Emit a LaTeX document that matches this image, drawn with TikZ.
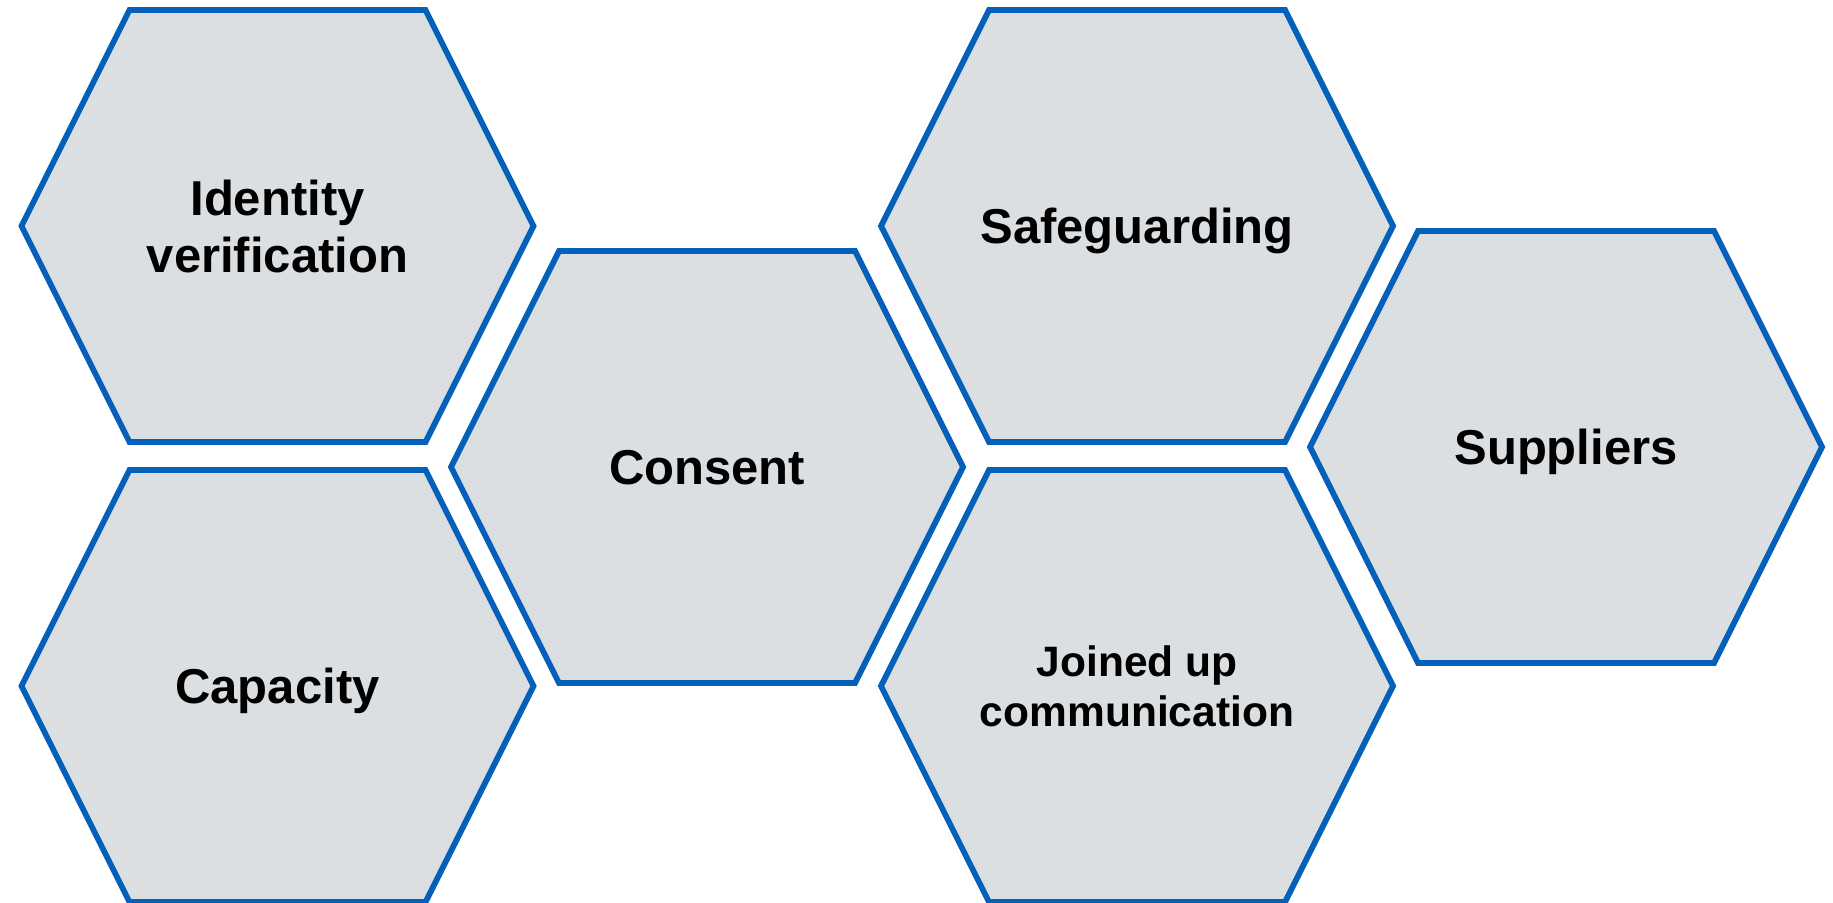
\documentclass[tikz,border=0pt]{standalone}
\usepackage{fontspec}
\setmainfont{Liberation Sans}
\definecolor{hexfill}{RGB}{220,223,226}
\definecolor{hexline}{RGB}{5,96,186}
\newcommand{\hexcell}[5]{%
  \draw[hexstyle] (#1-256,#2) -- (#1-148,#2-216) -- (#1+148,#2-216) -- (#1+256,#2)
     -- (#1+148,#2+216) -- (#1-148,#2+216) -- cycle;
  \node[#5] (#3) at (#1,#2) {#4};
}
\begin{document}
\begin{tikzpicture}[x=1pt,y=-1pt,
  hexstyle/.style={draw=hexline,fill=hexfill,line width=5.8pt,line join=miter},
  biglabel/.style={font=\bfseries\fontsize{49}{57}\selectfont,align=center,inner sep=0pt},
  oneline/.style={biglabel,text depth=0pt},
  smalllabel/.style={font=\bfseries\fontsize{42.5}{50}\selectfont,align=center,inner sep=0pt}]
\useasboundingbox (0,0) rectangle (1833,902);
\hexcell{277.5}{226}{identity}{Identity\\verification}{biglabel}
\hexcell{277.5}{686}{capacity}{Capacity}{oneline}
\hexcell{707}{467}{consent}{Consent}{oneline}
\hexcell{1137}{226}{safeguarding}{Safeguarding}{oneline}
\hexcell{1137}{686}{joined}{Joined up\\communication}{smalllabel}
\hexcell{1566}{447}{suppliers}{Suppliers}{oneline}
\end{tikzpicture}
\end{document}
